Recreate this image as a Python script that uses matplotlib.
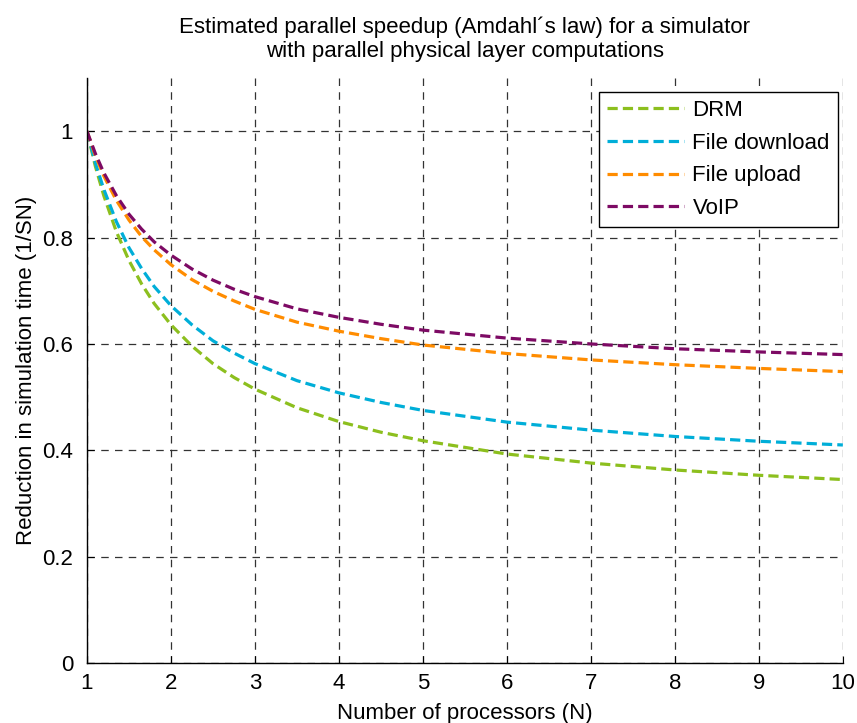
import matplotlib
matplotlib.use("Agg")
import matplotlib.pyplot as plt

plt.rcParams['font.family'] = ['Liberation Sans', 'DejaVu Sans']

# number of processors and the estimated 1/S(N) for each application
processors = [1, 1.1, 1.2, 1.35, 1.5, 1.65, 1.8, 2, 2.25, 2.5, 2.75, 3,
              3.5, 4, 4.5, 5, 6, 7, 8, 9, 10]
drm = [1.0, 0.934, 0.879, 0.811, 0.757, 0.713, 0.676, 0.636, 0.596, 0.563,
       0.537, 0.515, 0.480, 0.454, 0.434, 0.418, 0.393, 0.376, 0.363, 0.353,
       0.345]
file_download = [1.0, 0.940, 0.891, 0.830, 0.781, 0.742, 0.708, 0.672, 0.636,
                 0.606, 0.583, 0.563, 0.531, 0.508, 0.490, 0.475, 0.453, 0.438,
                 0.426, 0.417, 0.410]
file_upload = [1.0, 0.954, 0.916, 0.870, 0.833, 0.802, 0.777, 0.749, 0.721,
               0.699, 0.681, 0.665, 0.641, 0.624, 0.610, 0.598, 0.582, 0.570,
               0.561, 0.554, 0.548]
voip = [1.0, 0.958, 0.922, 0.879, 0.844, 0.816, 0.792, 0.767, 0.741, 0.720,
        0.703, 0.689, 0.666, 0.650, 0.637, 0.626, 0.611, 0.600, 0.591, 0.585,
        0.580]

series = [
    ("DRM", drm, "#8cbf1e"),
    ("File download", file_download, "#00aed8"),
    ("File upload", file_upload, "#ff8c00"),
    ("VoIP", voip, "#7d0a64"),
]

fig = plt.figure(figsize=(8.57, 7.23), dpi=100)
ax = fig.add_axes([0.1015, 0.083, 0.882, 0.809])

for name, vals, col in series:
    ax.plot(processors, vals, color=col, lw=2.3, ls=(0, (3.2, 1.6)), label=name)

ax.set_xlim(1, 10)
ax.set_ylim(0, 1.1)
ax.set_xticks(range(1, 11))
ax.set_yticks([0, 0.2, 0.4, 0.6, 0.8, 1])
ax.set_yticklabels(["0", "0.2", "0.4", "0.6", "0.8", "1"])
ax.grid(True, color="#333333", ls=(0, (6, 5)), lw=0.9)
ax.set_axisbelow(True)
ax.spines['top'].set_visible(False)
ax.spines['right'].set_visible(False)
ax.spines['left'].set_linewidth(1.0)
ax.spines['bottom'].set_linewidth(1.0)
ax.tick_params(direction='in', length=5, labelsize=16)
ax.tick_params(axis='x', pad=7)
ax.tick_params(axis='y', pad=10)

ax.set_title("Estimated parallel speedup (Amdahl\u00b4s law) for a simulator\n"
             "with parallel physical layer computations", fontsize=16,
             pad=15, linespacing=1.2)
ax.set_xlabel("Number of processors (N)", fontsize=16, labelpad=7)
ax.set_ylabel("Reduction in simulation time (1/SN)", fontsize=16, labelpad=4)

leg = ax.legend(loc='upper right', bbox_to_anchor=(0.993, 0.976), fontsize=16,
                fancybox=False, framealpha=1, edgecolor='black',
                handlelength=3.45, handletextpad=0.4, borderaxespad=0,
                borderpad=0.35, labelspacing=0.53)
leg.get_frame().set_linewidth(1.0)

fig.savefig("out.png", dpi=100)
